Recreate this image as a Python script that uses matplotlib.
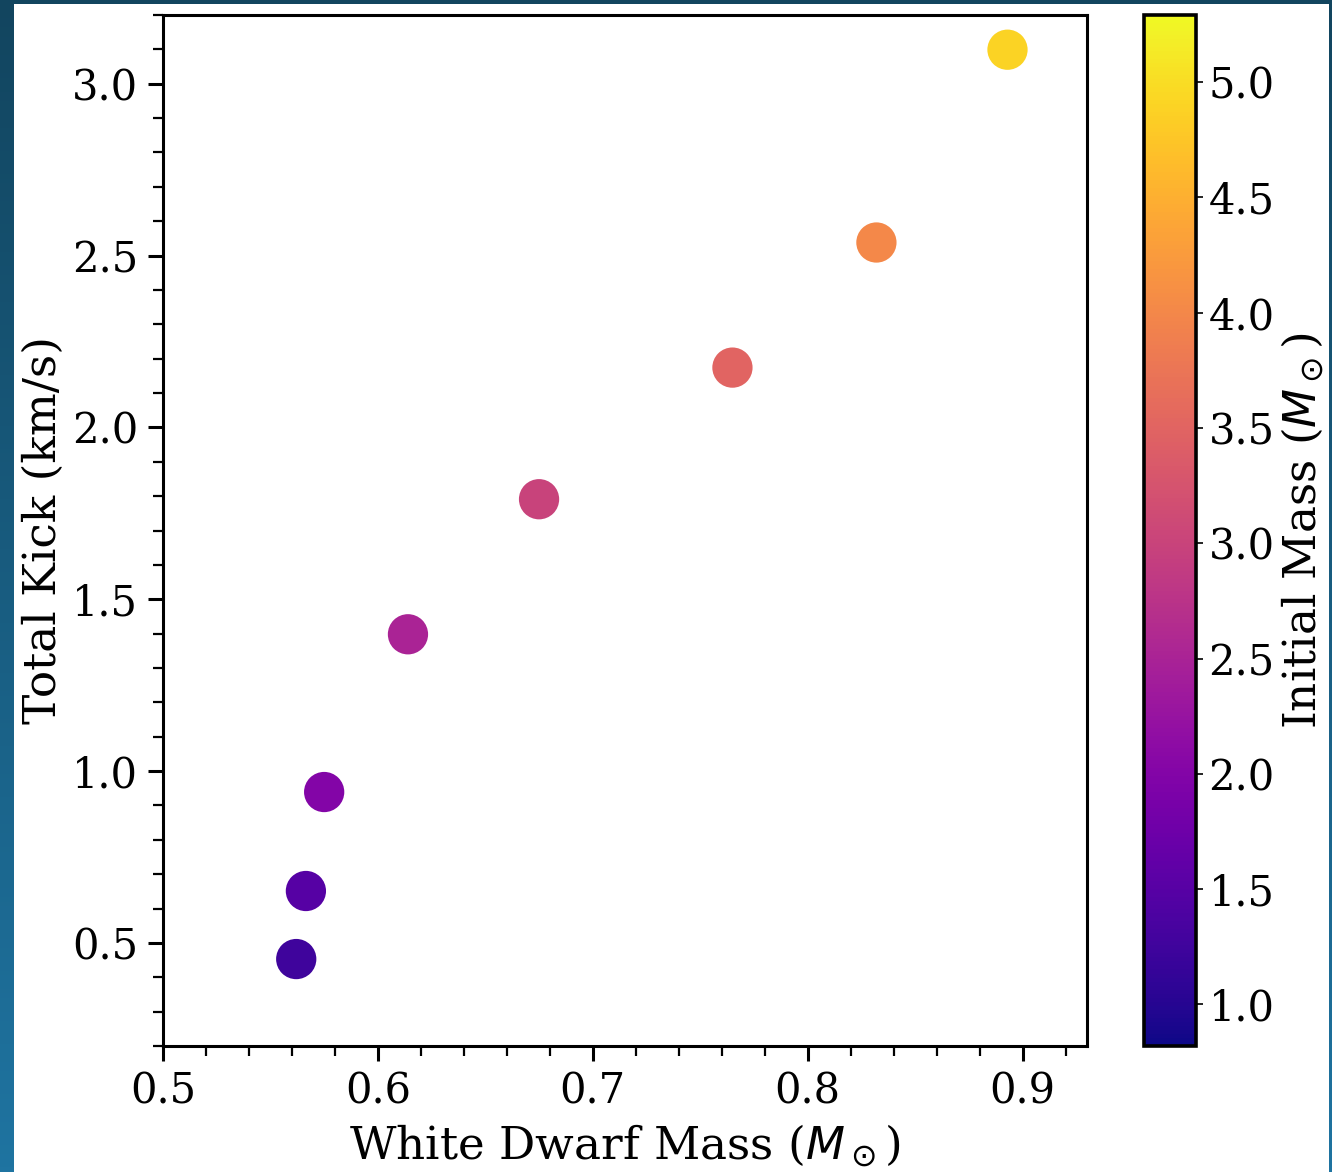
import numpy as np
import matplotlib
matplotlib.use("Agg")
import matplotlib.pyplot as plt
from matplotlib.colors import LinearSegmentedColormap
from matplotlib.patches import Rectangle
from matplotlib.ticker import MultipleLocator

# white dwarf mass, total kick, initial mass
wd_mass = [0.562, 0.5665, 0.575, 0.614, 0.675, 0.765, 0.832, 0.893]
total_kick = [0.453, 0.651, 0.939, 1.398, 1.791, 2.174, 2.538, 3.099]
initial_mass = [1.25, 1.5, 2.0, 2.5, 3.0, 3.5, 4.0, 4.9]

plt.rcParams["font.family"] = "DejaVu Serif"
plt.rcParams["mathtext.fontset"] = "dejavusans"

fig = plt.figure(figsize=(6.66, 5.86), dpi=200)

# slide background peeking out at the edges
bg = fig.add_axes([0, 0, 1, 1], zorder=-10)
grad = LinearSegmentedColormap.from_list("slide", ["#1f74a1", "#12455f"])
bg.imshow(np.linspace(0, 1, 256).reshape(-1, 1), cmap=grad, aspect="auto",
          extent=[0, 1, 0, 1], origin="lower")
bg.add_patch(Rectangle((14 / 1332, 0), (1329 - 14) / 1332, 1168 / 1172,
                       facecolor="white", edgecolor="none"))
bg.set_xlim(0, 1)
bg.set_ylim(0, 1)
bg.axis("off")

ax = fig.add_axes([163 / 1332, 1 - 1046 / 1172, (1087 - 163) / 1332, (1046 - 15) / 1172])
sc = ax.scatter(wd_mass, total_kick, c=initial_mass, cmap="plasma",
                vmin=0.82, vmax=5.29, s=210, edgecolors="none")

ax.set_xlim(0.5, 0.93)
ax.set_ylim(0.2, 3.2)
ax.xaxis.set_major_locator(MultipleLocator(0.1))
ax.xaxis.set_minor_locator(MultipleLocator(0.02))
ax.yaxis.set_major_locator(MultipleLocator(0.5))
ax.yaxis.set_minor_locator(MultipleLocator(0.1))
ax.tick_params(which="major", direction="out", length=5.5, width=1.1, labelsize=15)
ax.tick_params(which="minor", direction="out", length=3.5, width=0.8)
for s in ax.spines.values():
    s.set_linewidth(1.1)

ax.set_xlabel(r"White Dwarf Mass ($M_\odot$)", fontsize=16.3, labelpad=3.5)
ax.set_ylabel("Total Kick (km/s)", fontsize=16.3, labelpad=2.5)

cax = fig.add_axes([1144 / 1332, 1 - 1046 / 1172, (1196 - 1144) / 1332, (1046 - 15) / 1172])
cb = fig.colorbar(sc, cax=cax)
cb.set_ticks(np.arange(1.0, 5.01, 0.5))
cb.ax.tick_params(length=2.5, width=0.6, labelsize=15, pad=2)
cb.outline.set_linewidth(1.3)
cb.set_label(r"Initial Mass ($M_\odot$)", fontsize=16.3, labelpad=2)

fig.savefig("out.png", dpi=200)
